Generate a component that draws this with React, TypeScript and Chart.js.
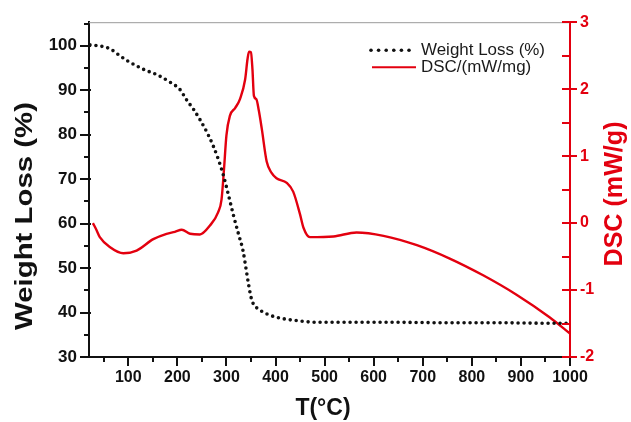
import { useEffect, useRef } from 'react';
import { Chart, registerables } from 'chart.js';

Chart.register(...registerables);

// ---- Data ----
const tgaTemps = [22, 45, 63, 80, 97, 115, 131, 160, 185, 205, 219, 233, 246, 260, 273, 284, 294, 304, 314, 325, 334, 340, 345, 350, 355, 365, 382, 400, 416, 450, 484, 550, 650, 750, 850, 950, 1000];
const tgaWeight = [100.2, 99.9, 99.3, 98.0, 96.7, 95.6, 94.7, 93.4, 91.8, 90.2, 87.8, 85.7, 83.4, 80.6, 77.5, 74.3, 70.8, 66.5, 62.0, 57.5, 53.8, 49.8, 46.4, 43.5, 41.9, 40.8, 39.7, 39.0, 38.6, 38.1, 37.8, 37.8, 37.8, 37.7, 37.7, 37.6, 37.6];

const dscTemps = [28, 35, 42, 63, 90, 117, 151, 178, 195, 209, 226, 246, 266, 283, 290, 295, 300, 307, 318, 328, 338, 343, 346, 350, 353, 356, 361, 366, 372, 382, 392, 402, 423, 436, 450, 457, 470, 518, 565, 620, 688, 755, 823, 891, 959, 1000];
const dscValues = [0.0, -0.1, -0.21, -0.36, -0.45, -0.41, -0.24, -0.16, -0.13, -0.10, -0.16, -0.17, -0.04, 0.16, 0.35, 0.8, 1.31, 1.60, 1.72, 1.86, 2.14, 2.45, 2.56, 2.55, 2.3, 1.9, 1.85, 1.68, 1.41, 0.92, 0.75, 0.67, 0.60, 0.47, 0.13, -0.07, -0.21, -0.20, -0.14, -0.19, -0.33, -0.53, -0.78, -1.07, -1.41, -1.65];

const xMajorTicks = [100, 200, 300, 400, 500, 600, 700, 800, 900, 1000];
const xMinorTicks = [50, 150, 250, 350, 450, 550, 650, 750, 850, 950];
const leftMajorTicks = [30, 40, 50, 60, 70, 80, 90, 100];
const leftMinorTicks = [35, 45, 55, 65, 75, 85, 95, 105];
const rightMajorTicks = [-2, -1, 0, 1, 2, 3];
const rightMinorTicks = [-1.5, -0.5, 0.5, 1.5, 2.5];

const seriesNames = ['Weight Loss (%)', 'DSC/(mW/mg)'];
const leftTitle = 'Weight Loss (%)';
const rightTitle = 'DSC (mW/g)';
const xTitle = 'T(°C)';

const RED = '#e3000f';
const BLACK = '#111111';
const FONT = '"Liberation Sans", Arial, Helvetica, sans-serif';

const decorPlugin = {
  id: 'decor',
  afterDraw(chart: any) {
    const { ctx, chartArea, scales } = chart;
    const x = scales.x;
    const y = scales.y;
    const y1 = scales.y1;
    const L = chartArea.left;
    const R = chartArea.right;
    const B = chartArea.bottom;
    const T = chartArea.top;
    ctx.save();

    // top frame line
    ctx.strokeStyle = '#9a9a9a';
    ctx.lineWidth = 1;
    ctx.beginPath();
    ctx.moveTo(L, T + 0.5);
    ctx.lineTo(R, T + 0.5);
    ctx.stroke();

    ctx.lineWidth = 2;
    ctx.lineCap = 'butt';
    ctx.strokeStyle = BLACK;
    const seg = (x0: number, y0: number, x1: number, y2: number) => {
      ctx.beginPath();
      ctx.moveTo(x0, y0);
      ctx.lineTo(x1, y2);
      ctx.stroke();
    };
    leftMajorTicks.forEach((v) => {
      const p = Math.round(y.getPixelForValue(v));
      seg(L - 9, p, L + 2, p);
    });
    leftMinorTicks.forEach((v) => {
      const p = Math.round(y.getPixelForValue(v));
      seg(L - 5, p, L, p);
    });
    xMajorTicks.forEach((v) => {
      const p = Math.round(x.getPixelForValue(v));
      seg(p, B, p, B + 9);
    });
    xMinorTicks.forEach((v) => {
      const p = Math.round(x.getPixelForValue(v));
      seg(p, B, p, B + 5);
    });
    ctx.strokeStyle = RED;
    rightMajorTicks.forEach((v) => {
      const p = Math.round(y1.getPixelForValue(v));
      seg(R - 8, p, R + 7, p);
    });
    rightMinorTicks.forEach((v) => {
      const p = Math.round(y1.getPixelForValue(v));
      seg(R - 8, p, R, p);
    });

    const drawRot = (text: string, cx: number, cy: number, font: string, color: string, targetLen?: number) => {
      ctx.save();
      ctx.font = font;
      ctx.fillStyle = color;
      ctx.textAlign = 'center';
      ctx.textBaseline = 'middle';
      ctx.translate(cx, cy);
      ctx.rotate(-Math.PI / 2);
      if (targetLen) {
        const w = ctx.measureText(text).width;
        ctx.scale(targetLen / w, 1);
      }
      ctx.fillText(text, 0, 0);
      ctx.restore();
    };
    drawRot(leftTitle, 25, 216, `bold 24px ${FONT}`, BLACK, 228);
    drawRot(rightTitle, 615, 194, `bold 25px ${FONT}`, RED, 145);

    ctx.font = `bold 23px ${FONT}`;
    ctx.fillStyle = BLACK;
    ctx.textAlign = 'center';
    ctx.textBaseline = 'middle';
    ctx.fillText(xTitle, 323, 409);

    // legend
    const lx = R - 199;
    const ly1 = T + 28;
    const ly2 = T + 45;
    ctx.fillStyle = BLACK;
    for (let i = 0; i < 6; i++) {
      ctx.beginPath();
      ctx.arc(lx + i * 7.6, ly1, 1.8, 0, Math.PI * 2);
      ctx.fill();
    }
    ctx.strokeStyle = RED;
    ctx.lineWidth = 2;
    seg(lx + 1, ly2, lx + 45, ly2);
    ctx.font = `16px ${FONT}`;
    ctx.fillStyle = '#1a1a1a';
    ctx.textAlign = 'left';
    ctx.textBaseline = 'middle';
    ctx.save();
    ctx.translate(lx + 50, ly1);
    ctx.scale(124 / ctx.measureText(seriesNames[0]).width, 1);
    ctx.fillText(seriesNames[0], 0, 0);
    ctx.restore();
    ctx.save();
    ctx.translate(lx + 50, ly2);
    ctx.scale(1.06, 1);
    ctx.fillText(seriesNames[1], 0, 0);
    ctx.restore();

    ctx.restore();
  },
};

export default function App() {
  const ref = useRef<HTMLCanvasElement | null>(null);

  useEffect(() => {
    if (!ref.current) return;
    const tgaData = tgaTemps.map((t, i) => ({ x: t, y: tgaWeight[i] }));
    const dscData = dscTemps.map((t, i) => ({ x: t, y: dscValues[i] }));
    const plain = (v: any) => String(v);

    const chart = new Chart(ref.current, {
      type: 'line',
      data: {
        datasets: [
          {
            label: seriesNames[0],
            data: tgaData,
            yAxisID: 'y',
            borderColor: BLACK,
            borderWidth: 3.6,
            borderDash: [0, 6],
            borderCapStyle: 'round',
            pointRadius: 0,
            cubicInterpolationMode: 'monotone',
            fill: false,
          },
          {
            label: seriesNames[1],
            data: dscData,
            yAxisID: 'y1',
            borderColor: RED,
            borderWidth: 2.4,
            pointRadius: 0,
            cubicInterpolationMode: 'monotone',
            fill: false,
          },
        ],
      },
      options: {
        responsive: false,
        animation: false,
        devicePixelRatio: 1,
        layout: { padding: { top: 18, left: 0, right: 0, bottom: 0 } },
        plugins: {
          legend: { display: false },
          tooltip: { enabled: false },
        },
        scales: {
          x: {
            type: 'linear',
            min: 20,
            max: 1000,
            afterBuildTicks: (s: any) => {
              s.ticks = xMajorTicks.map((v) => ({ value: v }));
            },
            afterFit: (s: any) => {
              s.height = 65;
            },
            grid: { display: false, drawTicks: false },
            border: { display: true, color: BLACK, width: 2 },
            ticks: {
              padding: 11,
              color: BLACK,
              maxRotation: 0,
              autoSkip: false,
              callback: plain,
              font: { family: FONT, size: 16, weight: 'bold' },
            },
          },
          y: {
            type: 'linear',
            position: 'left',
            min: 30,
            max: 105.3,
            afterBuildTicks: (s: any) => {
              s.ticks = leftMajorTicks.map((v) => ({ value: v }));
            },
            afterFit: (s: any) => {
              s.width = 89;
            },
            grid: { display: false, drawTicks: false },
            border: { display: true, color: BLACK, width: 2 },
            ticks: {
              padding: 12,
              color: BLACK,
              autoSkip: false,
              callback: plain,
              font: { family: FONT, size: 17, weight: 'bold' },
            },
          },
          y1: {
            type: 'linear',
            position: 'right',
            min: -2,
            max: 3,
            afterBuildTicks: (s: any) => {
              s.ticks = rightMajorTicks.map((v) => ({ value: v }));
            },
            afterFit: (s: any) => {
              s.width = 61;
            },
            grid: { display: false, drawTicks: false },
            border: { display: true, color: RED, width: 2 },
            ticks: {
              padding: 10,
              color: RED,
              autoSkip: false,
              callback: plain,
              font: { family: FONT, size: 16, weight: 'bold' },
            },
          },
        },
      },
      plugins: [decorPlugin],
    } as any);

    return () => chart.destroy();
  }, []);

  return (
    <div style={{ position: 'absolute', left: 0, top: 0, width: 631, height: 422, background: '#ffffff' }}>
      <canvas ref={ref} width={631} height={422} style={{ display: 'block', width: 631, height: 422 }} />
    </div>
  );
}
